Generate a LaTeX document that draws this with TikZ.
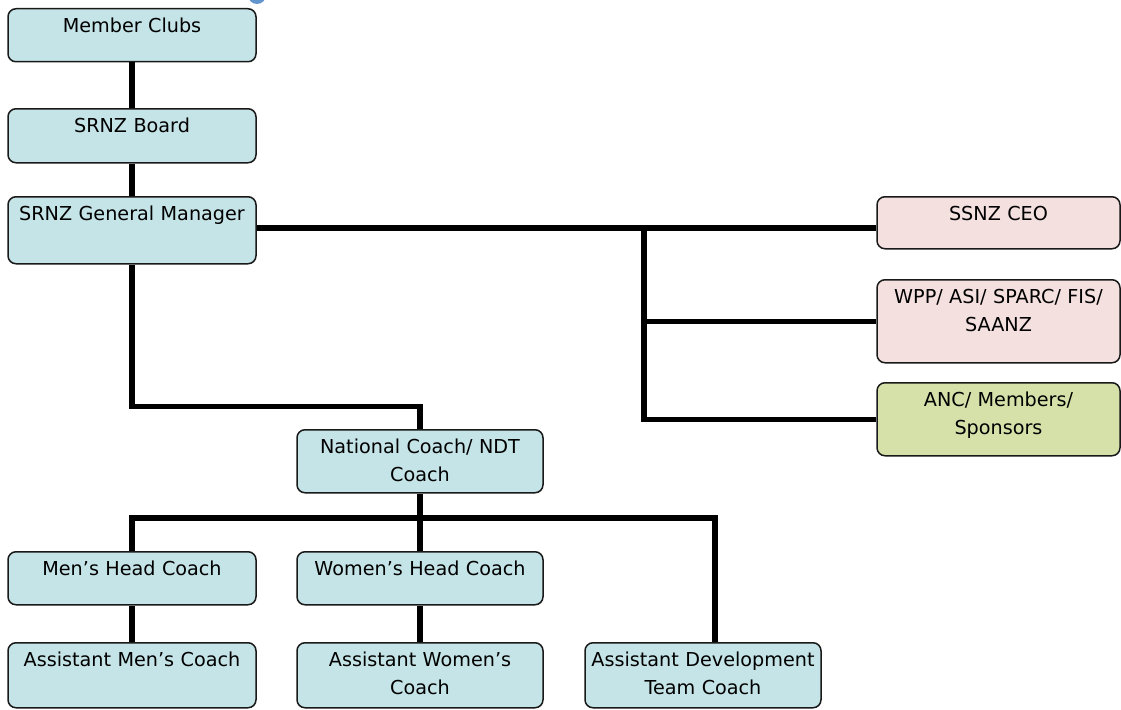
\documentclass[tikz,border=0pt]{standalone}
\usepackage{fontspec}
\setmainfont{DejaVu Sans}
\usepackage{tikz}
\usetikzlibrary{calc}
\definecolor{srnzblue}{RGB}{197,228,231}
\definecolor{srnzpink}{RGB}{243,224,223}
\definecolor{srnzgreen}{RGB}{214,225,170}
\definecolor{dotblue}{RGB}{98,148,206}

\begin{document}
\begin{tikzpicture}[x=1pt, y=-1pt,
    font=\fontsize{19.2}{28}\selectfont,
    box/.style={draw=black!90, line width=1.5pt, rounded corners=8pt, fill=srnzblue,
      anchor=north, inner xsep=2pt, inner ysep=10pt, text height=14pt, align=center},
    leftcol/.style={text width=244pt},
    midcol/.style={text width=242pt},
    rightcol/.style={text width=239pt},
    link/.style={line width=5.5pt}]
  \useasboundingbox (0,0) rectangle (1121,709);
  \fill[dotblue] (257,-5) circle (9);

  % boxes
  \node[box, leftcol, text depth=19pt] (clubs) at (132,8) {Member Clubs};
  \node[box, leftcol, text depth=20pt] (board) at (132,108) {SRNZ Board};
  \node[box, leftcol, text depth=33pt] (gm) at (132,196) {SRNZ General Manager};
  \node[box, rightcol, fill=srnzpink, text depth=18pt] (ceo) at (998.5,196) {SSNZ CEO};
  \node[box, rightcol, fill=srnzpink, text depth=49pt] (wpp) at (998.5,279) {WPP/ ASI/ SPARC/ FIS/\\SAANZ};
  \node[box, rightcol, fill=srnzgreen, text depth=39pt] (anc) at (998.5,382) {ANC/ Members/\\Sponsors};
  \node[box, midcol, text depth=29pt] (natl) at (420,429) {National Coach/ NDT\\Coach};
  \node[box, leftcol, text depth=19pt] (menhead) at (132,551) {Men’s Head Coach};
  \node[box, midcol, text depth=19pt] (womenhead) at (420,551) {Women’s Head Coach};
  \node[box, leftcol, text depth=31pt] (asstmen) at (132,642) {Assistant Men’s Coach};
  \node[box, midcol, text depth=31pt] (asstwomen) at (420,642) {Assistant Women’s\\Coach};
  \node[box, text width=232pt, text depth=31pt] (asstdev) at (703,642) {Assistant Development\\Team Coach};

  % connectors
  \coordinate (hub) at (644,228);
  \coordinate (split) at (420,518);
  \path[link]
  (clubs) edge (board)
  (board) edge (gm)
  (menhead) edge (asstmen)
  (womenhead) edge (asstwomen)
  ;
  \draw[link] (gm.east |- hub) -- (ceo.west |- hub);
  \draw[link] (hub) |- (wpp.west);
  \draw[link] (hub) |- (anc.west);
  \draw[link] (gm.south) -- ++(0,142) -| (natl.north);
  \draw[link] (natl.south) -- (split);
  \draw[link] (menhead.north) |- (split) -| ([xshift=12pt]asstdev.north);
  \draw[link] (split) -- (womenhead.north);
\end{tikzpicture}
\end{document}
